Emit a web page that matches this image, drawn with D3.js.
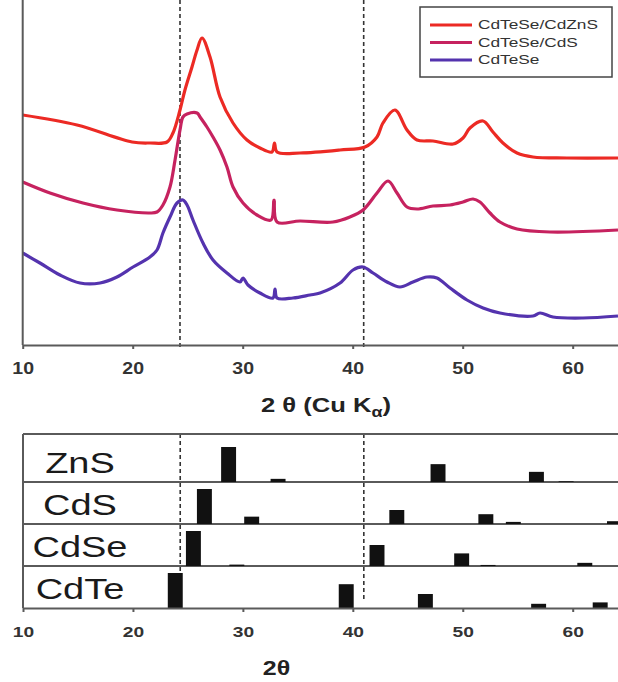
<!DOCTYPE html>
<html>
<head>
<meta charset="utf-8">
<script src="https://cdn.jsdelivr.net/npm/d3@7"></script>
<style>
  body { margin: 0; background: #fff; }
  svg { display: block; font-family: "Liberation Sans", Arial, sans-serif; }
</style>
</head>
<body>
<svg id="chart" width="618" height="682"></svg>
<script>
// ---- XRD patterns (2theta in degrees, intensity in a.u.) ----
const zncsTheta = [10.0, 14.94, 19.94, 21.57, 23.12, 23.66, 24.3, 24.75, 25.39, 25.85, 26.3, 27.03, 27.94, 29.12, 30.39, 31.57, 32.66, 32.89, 33.12, 35.21, 38.85, 41.12, 42.21, 42.75, 43.84, 44.94, 45.85, 47.3, 49.12, 50.03, 50.66, 51.85, 52.75, 53.66, 54.94, 56.39, 59.48, 64.12];
const zncsCounts = [2300, 2200, 2030, 2020, 2030, 2120, 2350, 2550, 2780, 2950, 3070, 2880, 2480, 2220, 2050, 1970, 1930, 2020, 1930, 1920, 1950, 1980, 2080, 2220, 2350, 2150, 2050, 2040, 2010, 2070, 2170, 2240, 2130, 2020, 1920, 1880, 1870, 1870];

const cdsTheta = [10.0, 12.48, 15.48, 18.57, 21.57, 22.21, 22.75, 23.39, 23.85, 24.3, 24.57, 24.94, 25.85, 26.12, 26.75, 27.3, 27.94, 28.57, 29.12, 30.03, 31.3, 32.57, 32.85, 33.12, 35.21, 38.21, 39.75, 40.94, 42.21, 43.21, 44.03, 44.94, 45.85, 47.3, 48.85, 50.03, 50.94, 51.57, 52.48, 53.39, 54.94, 57.94, 64.12];
const cdsCounts = [1630, 1520, 1420, 1350, 1320, 1330, 1400, 1580, 1850, 2150, 2280, 2310, 2320, 2280, 2180, 2080, 1950, 1780, 1580, 1420, 1300, 1250, 1450, 1230, 1240, 1230, 1280, 1350, 1520, 1640, 1520, 1380, 1360, 1390, 1400, 1430, 1460, 1430, 1320, 1230, 1160, 1130, 1150];

const coreTheta = [10.0, 11.57, 13.39, 15.21, 17.03, 18.57, 20.03, 21.57, 22.21, 22.75, 23.39, 24.03, 24.57, 24.94, 25.48, 26.39, 27.3, 28.57, 29.75, 30.03, 30.48, 31.57, 32.75, 32.94, 33.12, 34.57, 36.12, 37.03, 38.85, 40.03, 40.94, 41.85, 43.12, 44.3, 45.48, 46.75, 47.66, 48.85, 50.39, 51.85, 53.39, 56.39, 57.03, 58.21, 60.94, 64.12];
const coreCounts = [920, 820, 700, 620, 620, 680, 780, 880, 950, 1120, 1280, 1420, 1450, 1400, 1250, 1020, 850, 720, 630, 670, 600, 520, 470, 560, 470, 470, 500, 520, 620, 750, 780, 720, 630, 580, 630, 680, 670, 570, 450, 370, 320, 290, 320, 280, 270, 290];

const seriesNames = ["CdTeSe/CdZnS", "CdTeSe/CdS", "CdTeSe"];
const seriesColors = ["#ec2a24", "#c6225f", "#5433ae"];
const refLines = [24.3, 41.0];
const xTicks = [10, 20, 30, 40, 50, 60];

// ---- reference stick patterns (relative intensity %) ----
const phases = ["ZnS", "CdS", "CdSe", "CdTe"];
const znsPos = [28.7, 33.2, 47.75, 56.7, 59.4];
const znsInt = [100, 9, 51, 29, 2];
const cdsPos = [26.5, 30.8, 44.0, 52.1, 54.6, 63.8];
const cdsInt = [100, 21, 40, 28, 6, 8];
const cdsePos = [25.5, 29.45, 42.2, 49.9, 52.3, 61.1];
const cdseInt = [100, 4, 60, 36, 3, 9];
const cdtePos = [23.85, 39.4, 46.6, 56.9, 62.5];
const cdteInt = [100, 68, 40, 12, 16];

const svg = d3.select("#chart");
const axisColor = "#5a5a5a";

// stretch text horizontally around its x position
function stretch(sel, k) {
  sel.each(function() {
    const t = d3.select(this);
    const x = +t.attr("x") || 0;
    t.attr("transform", "translate(" + x + ",0) scale(" + k + ",1) translate(" + (-x) + ",0)");
  });
}

// ================= top panel =================
const x = d3.scaleLinear().domain([10, 64.12]).range([22.7, 618]);
const y = d3.scaleLinear().domain([0, 3450]).range([345, 0]);

const topG = svg.append("g");

topG.selectAll(".ref")
  .data(refLines)
  .enter().append("line")
  .attr("x1", d => x(d)).attr("x2", d => x(d))
  .attr("y1", 0).attr("y2", 350)
  .attr("stroke", "#333").attr("stroke-width", 1.6)
  .attr("stroke-dasharray", "4,3");

const patterns = [
  {theta: zncsTheta, counts: zncsCounts},
  {theta: cdsTheta, counts: cdsCounts},
  {theta: coreTheta, counts: coreCounts}
];

const line = d3.line()
  .x(d => x(d[0]))
  .y(d => y(d[1]))
  .curve(d3.curveCatmullRom.alpha(0.5));

patterns.forEach((p, i) => {
  topG.append("path")
    .datum(p.theta.map((t, j) => [t, p.counts[j]]))
    .attr("d", line)
    .attr("fill", "none")
    .attr("stroke", seriesColors[i])
    .attr("stroke-width", 3.2)
    .attr("stroke-linejoin", "round");
});

topG.append("line")
  .attr("x1", 22.7).attr("x2", 22.7)
  .attr("y1", 0).attr("y2", 345)
  .attr("stroke", axisColor).attr("stroke-width", 2);

const xAxisTop = topG.append("g")
  .attr("transform", "translate(0,345)")
  .call(d3.axisBottom(x).tickValues(xTicks).tickSize(4).tickSizeOuter(0).tickPadding(14));
xAxisTop.select(".domain").attr("stroke", axisColor).attr("stroke-width", 2);
xAxisTop.selectAll(".tick line").attr("stroke", axisColor).attr("stroke-width", 2);
xAxisTop.selectAll("text")
  .attr("font-size", 16).attr("font-weight", "bold").attr("fill", "#333")
  .attr("font-family", "Liberation Sans, Arial, sans-serif")
  .call(stretch, 1.22);

const topTitle = topG.append("text")
  .attr("x", 326).attr("y", 412)
  .attr("text-anchor", "middle")
  .attr("font-size", 20).attr("font-weight", "bold").attr("fill", "#222");
topTitle.append("tspan").text("2 θ (Cu K");
topTitle.append("tspan").attr("font-size", 14).attr("dy", 5).text("α");
topTitle.append("tspan").attr("dy", -5).text(")");
topTitle.call(stretch, 1.28);

// legend
const legend = topG.append("g");
legend.append("rect")
  .attr("x", 420).attr("y", 7).attr("width", 192).attr("height", 70)
  .attr("fill", "#fff").attr("stroke", "#444").attr("stroke-width", 1.5);
seriesNames.forEach((name, i) => {
  const ly = 25 + i * 17.5;
  legend.append("line")
    .attr("x1", 430).attr("x2", 472).attr("y1", ly).attr("y2", ly)
    .attr("stroke", seriesColors[i]).attr("stroke-width", 3);
  legend.append("text")
    .attr("x", 478).attr("y", ly + 4.5)
    .attr("font-size", 13).attr("fill", "#333")
    .text(name)
    .call(stretch, 1.33);
});

// ================= bottom panel =================
const xb = d3.scaleLinear().domain([10, 64.12]).range([23, 618]);
const rows = d3.scaleBand().domain(phases).range([440, 608]);
const hb = d3.scaleLinear().domain([0, 100]).range([0, 35]);
const sticks = [
  {pos: znsPos, int: znsInt},
  {pos: cdsPos, int: cdsInt},
  {pos: cdsePos, int: cdseInt},
  {pos: cdtePos, int: cdteInt}
];
const barHalf = 0.68;

const botG = svg.append("g");

botG.selectAll(".ref")
  .data(refLines)
  .enter().append("line")
  .attr("x1", d => xb(d)).attr("x2", d => xb(d))
  .attr("y1", 434).attr("y2", 601)
  .attr("stroke", "#333").attr("stroke-width", 1.6)
  .attr("stroke-dasharray", "4,3");

// frame: top edge, left edge, row separators
botG.append("line")
  .attr("x1", 23).attr("x2", 618).attr("y1", 434).attr("y2", 434)
  .attr("stroke", axisColor).attr("stroke-width", 2);
botG.append("line")
  .attr("x1", 23).attr("x2", 23).attr("y1", 434).attr("y2", 608)
  .attr("stroke", axisColor).attr("stroke-width", 2);
botG.selectAll(".sep")
  .data(phases.slice(0, 3))
  .enter().append("line")
  .attr("x1", 23).attr("x2", 618)
  .attr("y1", d => rows(d) + rows.bandwidth())
  .attr("y2", d => rows(d) + rows.bandwidth())
  .attr("stroke", axisColor).attr("stroke-width", 2);

phases.forEach((ph, i) => {
  const base = rows(ph) + rows.bandwidth();
  const s = sticks[i];
  botG.selectAll(".bar-" + ph)
    .data(s.pos.map((p, j) => ({p: p, v: s.int[j]})))
    .enter().append("rect")
    .attr("x", d => xb(d.p - barHalf))
    .attr("width", d => xb(d.p + barHalf) - xb(d.p - barHalf))
    .attr("y", d => base - hb(d.v))
    .attr("height", d => hb(d.v))
    .attr("fill", "#111");
  botG.append("text")
    .attr("x", 80).attr("y", base - 8.5)
    .attr("text-anchor", "middle")
    .attr("font-size", 29).attr("fill", "#1a1a1a")
    .text(ph)
    .call(stretch, 1.31);
});

const xAxisBot = botG.append("g")
  .attr("transform", "translate(0,608)")
  .call(d3.axisBottom(xb).tickValues(xTicks).tickSize(4).tickSizeOuter(0).tickPadding(14));
xAxisBot.select(".domain").attr("stroke", axisColor).attr("stroke-width", 2);
xAxisBot.selectAll(".tick line").attr("stroke", axisColor).attr("stroke-width", 2);
xAxisBot.selectAll("text")
  .attr("font-size", 15).attr("font-weight", "bold").attr("fill", "#333")
  .attr("font-family", "Liberation Sans, Arial, sans-serif")
  .call(stretch, 1.28);

botG.append("text")
  .attr("x", 276.5).attr("y", 675)
  .attr("text-anchor", "middle")
  .attr("font-size", 20).attr("font-weight", "bold").attr("fill", "#222")
  .text("2θ")
  .call(stretch, 1.25);
</script>
</body>
</html>
